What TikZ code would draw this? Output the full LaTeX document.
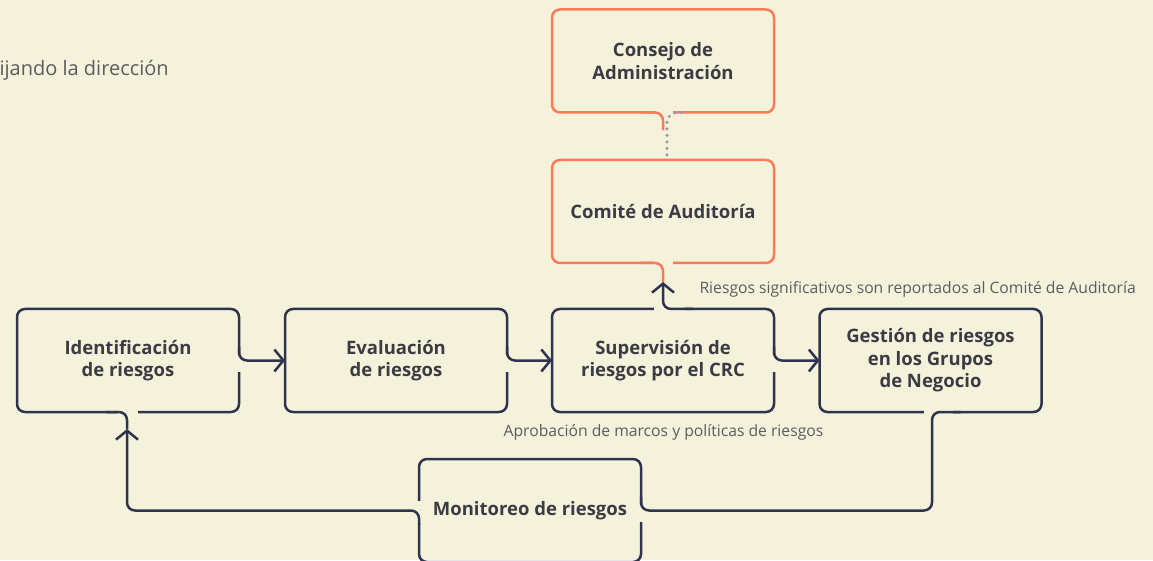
\documentclass[tikz,border=0pt]{standalone}
\usepackage{fontspec}
\setmainfont{Open Sans}
\usetikzlibrary{arrows.meta,calc}
\definecolor{bg}{HTML}{F5F2DC}
\definecolor{navy}{HTML}{30334E}
\definecolor{coral}{HTML}{FA7B5C}
\definecolor{ink}{HTML}{3B3B43}
\definecolor{soft}{HTML}{5C5C5E}
\definecolor{dots}{HTML}{9C9CA6}
\tikzset{
  box/.style={draw=navy, line width=2.5pt, rounded corners=8pt, minimum width=222pt, minimum height=103pt, outer sep=0pt, align=center, text=ink, font=\bfseries\fontsize{18.5}{22.5}\selectfont},
  board/.style={box, draw=coral},
  mask/.style={draw=bg, line width=5pt},
  link/.style={draw=navy, line width=2.5pt, rounded corners=8pt},
  tail/.style={link, draw=coral},
  dotline/.style={draw=dots, line width=3.5pt, line cap=round, dash pattern=on 0pt off 6.5pt, rounded corners=10pt},
  note/.style={text=soft, font=\fontsize{15.7}{19}\selectfont},
  >={Straight Barb[length=9pt,width=22pt]}
}
\begin{document}
\begin{tikzpicture}[x=1pt,y=1pt]
  \fill[bg] (0,0) rectangle (1153,560);
  \clip (0,0) rectangle (1153,560);

  \node[board] (con) at (663,499) {Consejo de\\Administración};
  \node[board] (aud) at (663,348.5) {Comité de Auditoría};
  \node[box] (idr) at (128,199.5) {Identificación\\de riesgos};
  \node[box] (evr) at (396,199.5) {Evaluación\\de riesgos};
  \node[box] (sup) at (663,199.5) {Supervisión de\\riesgos por el CRC};
  \node[box] (ges) at (930.5,199.5) {Gestión de riesgos\\en los Grupos\\de Negocio};
  \node[box] (mon) at (530,49.5) {Monitoreo de riesgos};

  \draw[mask] ($(con.south)+(-9,0)$) -- ($(con.south)+(9.5,0)$);
  \draw[mask] ($(aud.south)+(-9,0)$) -- ($(aud.south)+(9.5,0)$);
  \draw[mask] ($(sup.north)+(-9,0)$) -- ($(sup.north)+(22,0)$);
  \draw[mask] ($(idr.east)+(0,6)$) -- ($(idr.east)+(0,-11)$);
  \draw[mask] ($(evr.east)+(0,6)$) -- ($(evr.east)+(0,-11)$);
  \draw[mask] ($(sup.east)+(0,6)$) -- ($(sup.east)+(0,-11)$);
  \draw[mask] ($(idr.south)+(-10,0)$) -- ($(idr.south)+(9.5,0)$);
  \draw[mask] ($(ges.south)+(-7,0)$) -- ($(ges.south)+(22,0)$);
  \draw[mask] ($(mon.west)+(0,10)$) -- ($(mon.west)+(0,-12)$);
  \draw[mask] ($(mon.east)+(0,6)$) -- ($(mon.east)+(0,-11)$);

  \coordinate (idtip) at ($(idr.south)+(-1,-17)$);
  \coordinate (audtip) at ($(aud.south)+(0,-19)$);
  \coordinate (gdrop) at ($(ges.south)+(1.5,0)$);

  \draw[dotline] ($(con.south)+(18,0)$) -| ($(aud.north)+(4,0)$);
  \draw[tail] ($(con.south)+(-22,0)$) -| ($(con.south)+(0,-18)$);
  \draw[tail] ($(aud.south)+(-22,0)$) -| (audtip);
  \draw[link,->] ($(sup.north)+(30,0)$) -| (audtip);
  \draw[link,->] ($(idr.east)+(0,14)$) |- (evr.west);
  \draw[link,->] ($(evr.east)+(0,14)$) |- (sup.west);
  \draw[link,->] ($(sup.east)+(0,14)$) |- (ges.west);
  \draw[link] ($(idr.south)+(-22,0)$) -| (idtip);
  \draw[link] ($(ges.south)+(30,0)$) -- (gdrop) -- (gdrop |- mon.east) -| ($(mon.east)+(0,14)$);
  \draw[link,->] ($(mon.west)+(0,-14)$) |- (idtip |- mon.west) -- (idtip);

  \node[note, anchor=west] (rep) at (696,271) {Riesgos significativos son reportados al Comité de Auditoría};
  \node[note] (apr) at ($(sup.south)+(0.5,-20)$) {Aprobación de marcos y políticas de riesgos};
  \node[note, anchor=west, font=\fontsize{20}{24}\selectfont] (dir) at (-4,490) {ijando la dirección};
\end{tikzpicture}
\end{document}
